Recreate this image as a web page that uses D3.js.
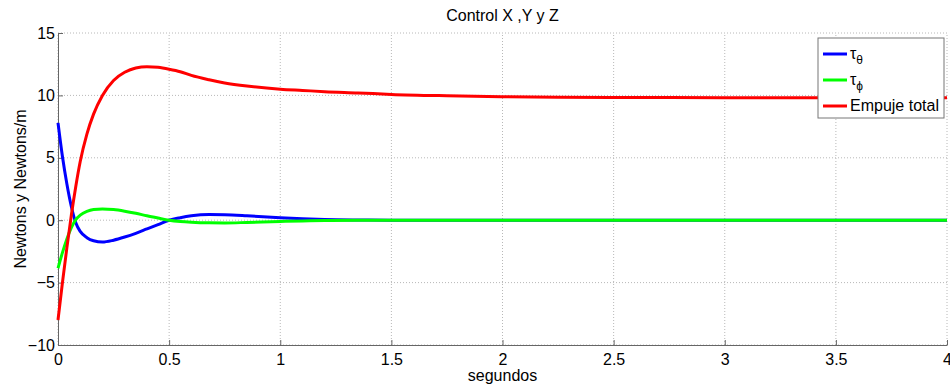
<!DOCTYPE html>
<html>
<head>
<meta charset="utf-8">
<script src="https://cdn.jsdelivr.net/npm/d3@7"></script>
<style>
  body { margin: 0; background: #fff; }
  text { font-family: "Liberation Sans", Arial, sans-serif; }
</style>
</head>
<body>
<div id="chart"></div>
<script>
// sample times (s) shared by all three series
const time = [0, 0.02, 0.04, 0.06, 0.08, 0.1, 0.13, 0.16, 0.2, 0.25, 0.3, 0.35, 0.4, 0.45, 0.5,
  0.55, 0.6, 0.68, 0.75, 0.85, 1.0, 1.1, 1.2, 1.35, 1.5, 1.75, 2.0, 2.25, 2.5, 3.0, 3.5, 4.0];

const tauTheta = [7.8, 5.1, 2.9, 1.1, -0.2, -0.9, -1.4, -1.65, -1.75, -1.6, -1.35, -1.05, -0.7, -0.35, 0.0,
  0.2, 0.35, 0.45, 0.43, 0.35, 0.2, 0.12, 0.06, 0.02, 0, 0, 0, 0, 0, 0, 0, 0];

const tauPhi = [-3.85, -2.6, -1.5, -0.6, 0.05, 0.4, 0.7, 0.85, 0.9, 0.85, 0.72, 0.55, 0.35, 0.17, 0.0,
  -0.1, -0.16, -0.21, -0.22, -0.18, -0.1, -0.06, -0.03, -0.01, 0, 0, 0, 0, 0, 0, 0, 0];

const empuje = [-8.0, -5.0, -2.2, 0.4, 2.7, 4.7, 6.9, 8.5, 10.0, 11.2, 11.85, 12.2, 12.3, 12.25, 12.1,
  11.9, 11.6, 11.25, 11.0, 10.75, 10.5, 10.4, 10.3, 10.2, 10.08, 9.97, 9.9, 9.85, 9.83, 9.82, 9.81, 9.81];

const xTicks = [0, 0.5, 1, 1.5, 2, 2.5, 3, 3.5, 4];
const yTicks = [-10, -5, 0, 5, 10, 15];

const seriesNames = ['theta', 'phi', 'Empuje total'];
const seriesColors = ['#0000ff', '#00ff00', '#ff0000'];
const seriesValues = [tauTheta, tauPhi, empuje];

const width = 950, height = 385;
const margin = {top: 33, right: 3, bottom: 40, left: 58};

const svg = d3.select('#chart').append('svg')
  .attr('width', width)
  .attr('height', height);

const x = d3.scaleLinear().domain([0, 4]).range([margin.left, width - margin.right]);
const y = d3.scaleLinear().domain([-10, 15]).range([height - margin.bottom, margin.top]);

// dotted grid
const grid = svg.append('g');
grid.selectAll('.vgrid').data(xTicks).enter().append('line')
  .attr('x1', d => x(d)).attr('x2', d => x(d))
  .attr('y1', y(-10)).attr('y2', y(15))
  .attr('stroke', '#b8b8b8').attr('stroke-dasharray', '1,2');
grid.selectAll('.hgrid').data(yTicks).enter().append('line')
  .attr('x1', x(0)).attr('x2', x(4))
  .attr('y1', d => y(d)).attr('y2', d => y(d))
  .attr('stroke', '#b8b8b8').attr('stroke-dasharray', '1,2');

// axes, ticks pointing inside like matlab
const xAxis = svg.append('g')
  .attr('transform', `translate(0,${y(-10)})`)
  .call(d3.axisBottom(x).tickValues(xTicks).tickFormat(d3.format('')).tickSizeInner(-5).tickSizeOuter(0).tickPadding(9));
const yAxis = svg.append('g')
  .attr('transform', `translate(${x(0)},0)`)
  .call(d3.axisLeft(y).tickValues(yTicks).tickSizeInner(-5).tickSizeOuter(0).tickPadding(3));

[xAxis, yAxis].forEach(a => {
  a.select('.domain').attr('stroke', '#666');
  a.selectAll('.tick line').attr('stroke', '#666');
  a.selectAll('.tick text').attr('fill', '#000').style('font-size', '16px')
    .style('font-family', '"Liberation Sans", Arial, sans-serif');
});

// curves
const line = d3.line()
  .x((d, i) => x(time[i]))
  .y(d => y(d))
  .curve(d3.curveMonotoneX);

seriesValues.forEach((vals, k) => {
  svg.append('path')
    .datum(vals)
    .attr('fill', 'none')
    .attr('stroke', seriesColors[k])
    .attr('stroke-width', 3)
    .attr('d', line);
});

// labels
svg.append('text')
  .attr('x', (x(0) + x(4)) / 2).attr('y', 21)
  .attr('text-anchor', 'middle')
  .style('font-size', '16px')
  .text('Control X ,Y y Z');

svg.append('text')
  .attr('x', (x(0) + x(4)) / 2).attr('y', 381)
  .attr('text-anchor', 'middle')
  .style('font-size', '16px')
  .text('segundos');

svg.append('text')
  .attr('transform', `translate(26,${(y(-10) + y(15)) / 2}) rotate(-90)`)
  .attr('text-anchor', 'middle')
  .style('font-size', '16px')
  .text('Newtons y Newtons/m');

// legend
const lg = svg.append('g').attr('transform', 'translate(818,38)');
lg.append('rect')
  .attr('width', 126).attr('height', 80)
  .attr('fill', '#fff').attr('stroke', '#777').attr('stroke-width', 1);

const subs = ['\u03b8', '\u03d5', null];
seriesNames.forEach((name, k) => {
  const yy = 16 + k * 26;
  lg.append('line')
    .attr('x1', 5).attr('x2', 29)
    .attr('y1', yy).attr('y2', yy)
    .attr('stroke', seriesColors[k]).attr('stroke-width', 3);
  const t = lg.append('text')
    .attr('x', 32).attr('y', yy + 5)
    .style('font-size', '16px');
  if (subs[k]) {
    t.append('tspan').text('\u03c4');
    t.append('tspan').attr('dy', 5).style('font-size', '12px').text(subs[k]);
  } else {
    t.text(name);
  }
});
</script>
</body>
</html>
